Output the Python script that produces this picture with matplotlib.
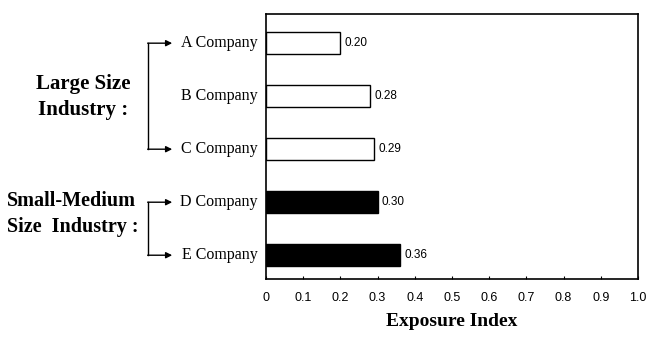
import matplotlib.pyplot as plt
import numpy as np

# -----------------------------------------
# Data
# -----------------------------------------
companies = ["A Company", "B Company", "C Company", "D Company", "E Company"]
exposure = [0.20, 0.28, 0.29, 0.30, 0.36]
groups = ["large", "large", "large", "small", "small"]
group_fill = {"large": "white", "small": "black"}
x_ticks = [0, 0.1, 0.2, 0.3, 0.4, 0.5, 0.6, 0.7, 0.8, 0.9, 1.0]

serif = "Liberation Serif"
sans = "Liberation Sans"

fig = plt.figure(figsize=(6.47, 3.42), dpi=100)
ax = fig.add_axes([0.411, 0.184, 0.575, 0.775])

y = np.arange(len(companies))
colors = [group_fill[g] for g in groups]
ax.barh(y, exposure, height=0.42, color=colors, edgecolor="black", linewidth=1.0)

for yi, v in zip(y, exposure):
    ax.text(v + 0.012, yi, f"{v:.2f}", va="center", ha="left",
            fontsize=8.5, family=sans)

ax.set_xlim(0, 1.0)
ax.set_ylim(len(companies) - 0.55, -0.55)
ax.set_xticks(x_ticks)
ax.set_xticklabels(["0" if t == 0 else f"{t:.1f}" for t in x_ticks],
                   fontsize=9, family=sans)
ax.tick_params(axis="x", direction="in", length=2, pad=9)
ax.set_yticks([])
for s in ax.spines.values():
    s.set_linewidth(1.2)

ax.set_xlabel("Exposure Index", fontsize=14, family=serif, fontweight="bold",
              labelpad=7)

# company names to the left of the axis
for yi, name in zip(y, companies):
    ax.annotate(name, xy=(0, yi), xycoords=("axes fraction", "data"),
                xytext=(-6, 0), textcoords="offset points",
                ha="right", va="center", fontsize=11.5, family=serif)

# bracket arrows grouping the companies
trans = ax.get_yaxis_transform()
bx, ax_tip = -0.318, -0.252
for first, last in [(0, 2), (3, 4)]:
    ax.plot([bx, bx], [y[first], y[last]], color="black", lw=1.0,
            transform=trans, clip_on=False)
    for yy in (y[first], y[last]):
        ax.annotate("", xy=(ax_tip, yy), xycoords=trans,
                    xytext=(bx, yy), textcoords=trans,
                    arrowprops=dict(arrowstyle="-|>", color="black", lw=1.0,
                                    mutation_scale=9, shrinkA=0, shrinkB=0))

# group titles
fig.text(83 / 647, 1 - 97 / 342, "Large Size\nIndustry :", ha="center",
         va="center", fontsize=15, family=serif, fontweight="bold",
         linespacing=1.4)
fig.text(7 / 647, 1 - 214 / 342, "Small-Medium\nSize  Industry :", ha="left",
         va="center", fontsize=14.5, family=serif, fontweight="bold",
         linespacing=1.4)

fig.savefig("out.png", dpi=100)
